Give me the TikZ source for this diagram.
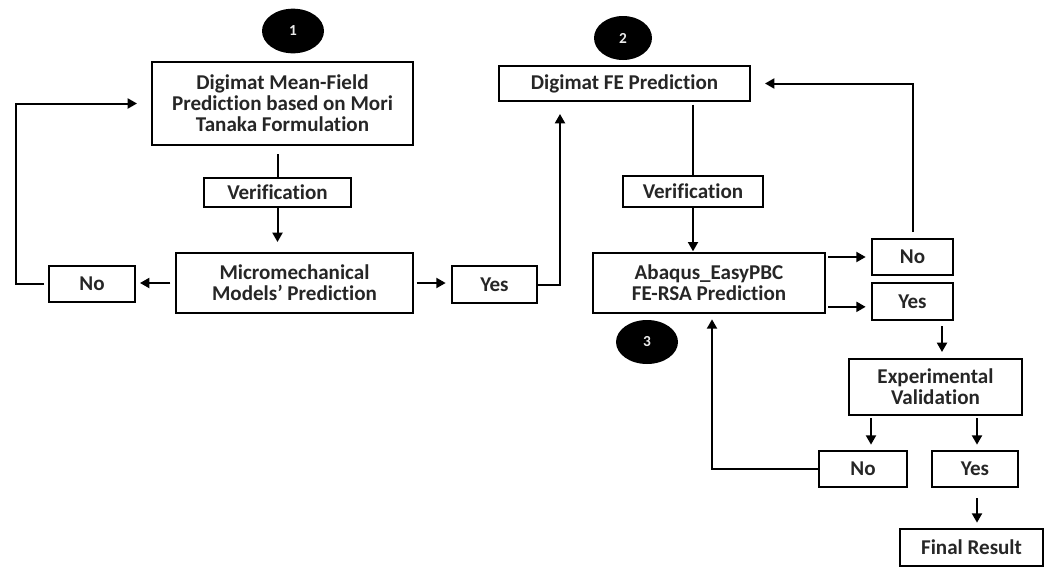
\documentclass[tikz,border=0pt]{standalone}
\usepackage{fontspec}
\setmainfont{Carlito}[Ligatures=NoCommon]
\usetikzlibrary{arrows.meta,shapes.geometric}
\begin{document}
\begin{tikzpicture}[x=0.75pt,y=-0.75pt,
  box/.style={draw, line width=1.5pt, inner sep=0pt, align=center, text=black!85,
    font=\fontsize{15.8}{15.8}\selectfont\bfseries},
  badge/.style={ellipse, fill=black, inner sep=0pt, text=white!92!black,
    font=\fontsize{11.5}{12}\selectfont\bfseries},
  ln/.style={line width=1.5pt},
  arr/.style={line width=1.5pt, -{Triangle[length=7pt,width=7.5pt]}}]
\useasboundingbox (0,0) rectangle (1045,568);
% badges
\node[badge, minimum width=46.5pt, minimum height=33.5pt] (c1) at (293,31) {1};
\node[badge, minimum width=43.5pt, minimum height=33pt] (c2) at (623,38) {2};
\node[badge, minimum width=46.5pt, minimum height=33pt] (c3) at (647,342) {3};
% boxes
\node[box, minimum width=261*0.75pt, minimum height=83*0.75pt] (A) at (282.5,103.5) {Digimat Mean-Field\\Prediction based on Mori\\Tanaka Formulation};
\node[box, minimum width=147*0.75pt, minimum height=29*0.75pt] (V1) at (277.5,192.5) {Verification};
\node[box, minimum width=237*0.75pt, minimum height=60*0.75pt] (B) at (294.5,283) {Micromechanical\\Models’ Prediction};
\node[box, minimum width=86*0.75pt, minimum height=36*0.75pt] (No1) at (92,284) {No};
\node[box, minimum width=85*0.75pt, minimum height=37*0.75pt] (Yes1) at (494.5,284.5) {Yes};
\node[box, minimum width=251*0.75pt, minimum height=35*0.75pt] (FE) at (624.5,83.5) {Digimat FE Prediction};
\node[box, minimum width=140*0.75pt, minimum height=31*0.75pt] (V2) at (693,191.5) {Verification};
\node[box, minimum width=232*0.75pt, minimum height=60*0.75pt] (C) at (709,283) {Abaqus\_EasyPBC\\FE-RSA Prediction};
\node[box, minimum width=81*0.75pt, minimum height=36*0.75pt] (No2) at (912.5,257) {No};
\node[box, minimum width=81*0.75pt, minimum height=37*0.75pt] (Yes2) at (912.5,301.5) {Yes};
\node[box, minimum width=173*0.75pt, minimum height=56*0.75pt] (Exp) at (935.5,387) {Experimental\\Validation};
\node[box, minimum width=88*0.75pt, minimum height=36*0.75pt] (No3) at (863,469) {No};
\node[box, minimum width=86*0.75pt, minimum height=36*0.75pt] (Yes3) at (975,469) {Yes};
\node[box, minimum width=143*0.75pt, minimum height=37*0.75pt] (Fin) at (971.5,547.5) {Final Result};
% connectors
\draw[ln, shorten <=6pt] (V1.north |- A.south) -- (V1.north);
\draw[arr, shorten >=7.5pt] (V1.south) -- (V1.south |- B.north);
\draw[arr, shorten <=3.5pt, shorten >=3pt] (B.west) -- (B.west -| No1.east);
\draw[arr, shorten <=3pt, shorten >=10.5pt] (No1.west) -- ++(-32,0) |- (A.west);
\draw[arr, shorten <=2pt, shorten >=4pt] (B.east) -- (B.east -| Yes1.west);
\draw[arr, shorten >=9pt] (Yes1.east) -| ([xshift=-64.5*0.75pt]FE.south);
\draw[ln, shorten <=2pt] (V2.north |- FE.south) -- (V2.north);
\draw[arr, shorten >=0.5pt] (V2.south) -- (V2.south |- C.north);
\draw[arr, shorten <=1.5pt, shorten >=4pt] (C.east |- No2.west) -- (No2.west);
\draw[arr, shorten <=1.5pt, shorten >=4pt] ([yshift=-4pt]C.east |- Yes2.west) -- ([yshift=-4pt]Yes2.west);
\draw[arr, shorten <=4.5pt, shorten >=10.5pt] (No2.north) |- (FE.east);
\draw[arr, shorten <=4pt, shorten >=4.5pt] ([xshift=6.5*0.75pt]Exp.north |- Yes2.south) -- ([xshift=6.5*0.75pt]Exp.north);
\draw[arr, shorten <=1.5pt, shorten >=4pt] ([xshift=8*0.75pt]No3.north |- Exp.south) -- ([xshift=8*0.75pt]No3.north);
\draw[arr, shorten <=1.5pt, shorten >=4pt] ([xshift=2*0.75pt]Yes3.north |- Exp.south) -- ([xshift=2*0.75pt]Yes3.north);
\draw[arr, shorten >=4pt] (No3.west) -| ([xshift=3*0.75pt]C.south);
\draw[arr, shorten <=7.5pt, shorten >=4pt] ([xshift=2*0.75pt]Yes3.south) -- ([xshift=2*0.75pt]Yes3.south |- Fin.north);
\end{tikzpicture}
\end{document}
